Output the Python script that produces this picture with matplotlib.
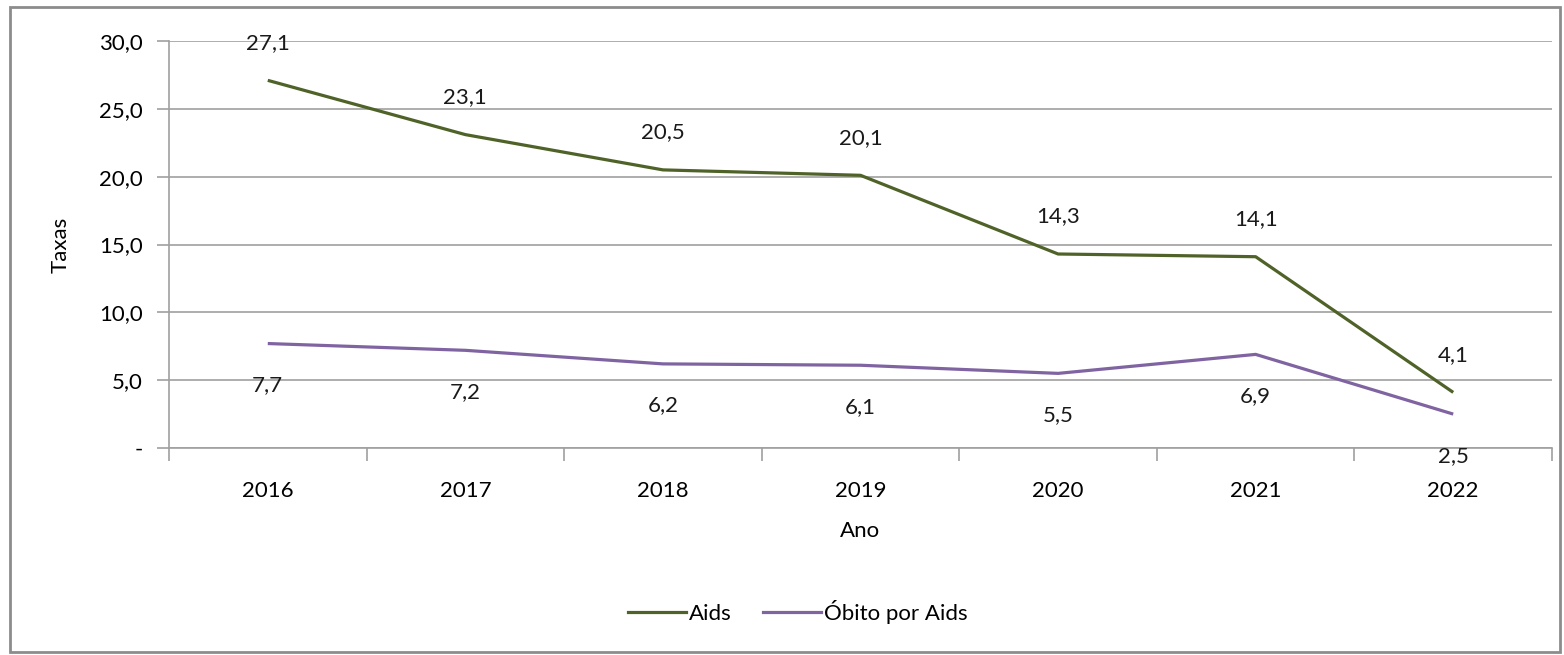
import matplotlib.pyplot as plt
from matplotlib.patches import Rectangle
from matplotlib.lines import Line2D

plt.rcParams['font.family'] = ['Lato', 'DejaVu Sans']

# data
anos = ['2016', '2017', '2018', '2019', '2020', '2021', '2022']
aids = [27.1, 23.1, 20.5, 20.1, 14.3, 14.1, 4.1]
obitos = [7.7, 7.2, 6.2, 6.1, 5.5, 6.9, 2.5]

cor_aids = '#4F6228'
cor_obito = '#8064A2'
cinza = '#A0A0A0'
fs = 16

fig = plt.figure(figsize=(15.64, 6.55), dpi=100)
ax = fig.add_axes([169 / 1564, 1 - 448 / 655, (1552 - 169) / 1564, (448 - 41) / 655])

x = list(range(len(anos)))
ax.plot(x, aids, color=cor_aids, lw=2.3, solid_capstyle='butt')
ax.plot(x, obitos, color=cor_obito, lw=2.3, solid_capstyle='butt')

# value labels
for xi, v in zip(x, aids):
    ax.annotate(f'{v:.1f}'.replace('.', ','), (xi, v), xytext=(0, 27), textcoords='offset points',
                ha='center', va='center', fontsize=fs, color='#1a1a1a')
for xi, v in zip(x, obitos):
    ax.annotate(f'{v:.1f}'.replace('.', ','), (xi, v), xytext=(0, -30), textcoords='offset points',
                ha='center', va='center', fontsize=fs, color='#1a1a1a')

ax.set_xlim(-0.5, len(anos) - 0.5)
ax.set_ylim(0, 30)
ax.set_yticks([0, 5, 10, 15, 20, 25, 30])
ax.set_yticklabels(['-', '5,0', '10,0', '15,0', '20,0', '25,0', '30,0'], fontsize=fs)
ax.yaxis.grid(True, color=cinza, lw=1.2)
ax.set_axisbelow(True)

# category ticks between years
ax.set_xticks([i + 0.5 for i in range(-1, len(anos))])
ax.set_xticklabels([])
ax.set_xticks(x, minor=True)
ax.set_xticklabels(anos, minor=True, fontsize=fs)
ax.tick_params(axis='x', which='minor', length=0, pad=24)
ax.tick_params(axis='x', which='major', length=9, color=cinza, width=1.2, direction='out')
ax.tick_params(axis='y', length=9, color=cinza, width=1.2, pad=10)

for s in ['top', 'right']:
    ax.spines[s].set_visible(False)
for s in ['left', 'bottom']:
    ax.spines[s].set_color(cinza)
    ax.spines[s].set_linewidth(1.2)

ax.set_xlabel('Ano', fontsize=fs, labelpad=14)
ax.set_ylabel('Taxas', fontsize=fs, labelpad=20)

handles = [Line2D([], [], color=cor_aids, lw=2.3), Line2D([], [], color=cor_obito, lw=2.3)]
fig.legend(handles, ['Aids', 'Óbito por Aids'], loc='center', bbox_to_anchor=(798 / 1564, 1 - 612 / 655),
           ncol=2, frameon=False, fontsize=fs, handlelength=2.6, handletextpad=0.15, columnspacing=1.4)

fig.patches.append(Rectangle((10 / 1564, 3 / 655), 1550 / 1564, 645 / 655, transform=fig.transFigure,
                             fill=False, edgecolor='#8c8c8c', lw=2))

fig.savefig('out.png', dpi=100)
